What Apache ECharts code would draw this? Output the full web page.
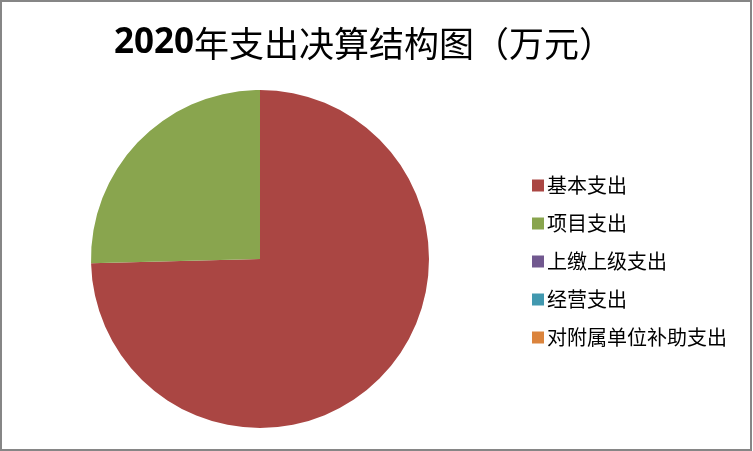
<!DOCTYPE html>
<html>
<head>
<meta charset="utf-8">
<script src="https://cdn.jsdelivr.net/npm/echarts@6/dist/echarts.min.js"></script>
<style>
html, body { margin: 0; padding: 0; background: #fff; }
#pieChart { width: 753px; height: 451px; }
</style>
</head>
<body>
<div id="pieChart"></div>
<script>
var categories = ['基本支出', '项目支出', '上缴上级支出', '经营支出', '对附属单位补助支出'];
var values = [74.6, 25.4, 0, 0, 0];
var colors = ['#AA4643', '#89A54E', '#71588F', '#4198AF', '#DB843D'];

var myChart = echarts.init(document.getElementById('pieChart'));

var pieData = categories.map(function (name, i) {
    return { name: name, value: values[i] };
});

var option = {
    animation: false,
    color: colors,
    title: {
        text: '{num|2020}{cn|年支出决算结构图（万元）}',
        left: 109,
        top: 21,
        textStyle: {
            rich: {
                num: {
                    fontFamily: 'Open Sans',
                    fontWeight: 'bold',
                    fontSize: 35,
                    color: '#000'
                },
                cn: {
                    fontFamily: 'Noto Sans CJK SC',
                    fontWeight: 'normal',
                    fontSize: 35,
                    color: '#000'
                }
            }
        }
    },
    legend: {
        orient: 'vertical',
        left: 527,
        top: 170,
        icon: 'rect',
        itemWidth: 12,
        itemHeight: 12,
        itemGap: 17,
        selectedMode: false,
        data: categories,
        textStyle: {
            fontFamily: 'Noto Sans CJK SC',
            fontSize: 20,
            lineHeight: 21,
            color: '#000',
            padding: [0, 0, 0, -2]
        }
    },
    graphic: [{
        type: 'rect',
        shape: { x: 1, y: 1, width: 750, height: 449 },
        style: { fill: 'none', stroke: '#868686', lineWidth: 2 },
        silent: true
    }],
    series: [{
        type: 'pie',
        center: [260, 259],
        radius: 169,
        startAngle: 90,
        clockwise: true,
        label: { show: false },
        labelLine: { show: false },
        emphasis: { disabled: true },
        data: pieData
    }]
};

myChart.setOption(option);

window.onresize = function () {
    myChart.resize();
};
</script>
</body>
</html>
